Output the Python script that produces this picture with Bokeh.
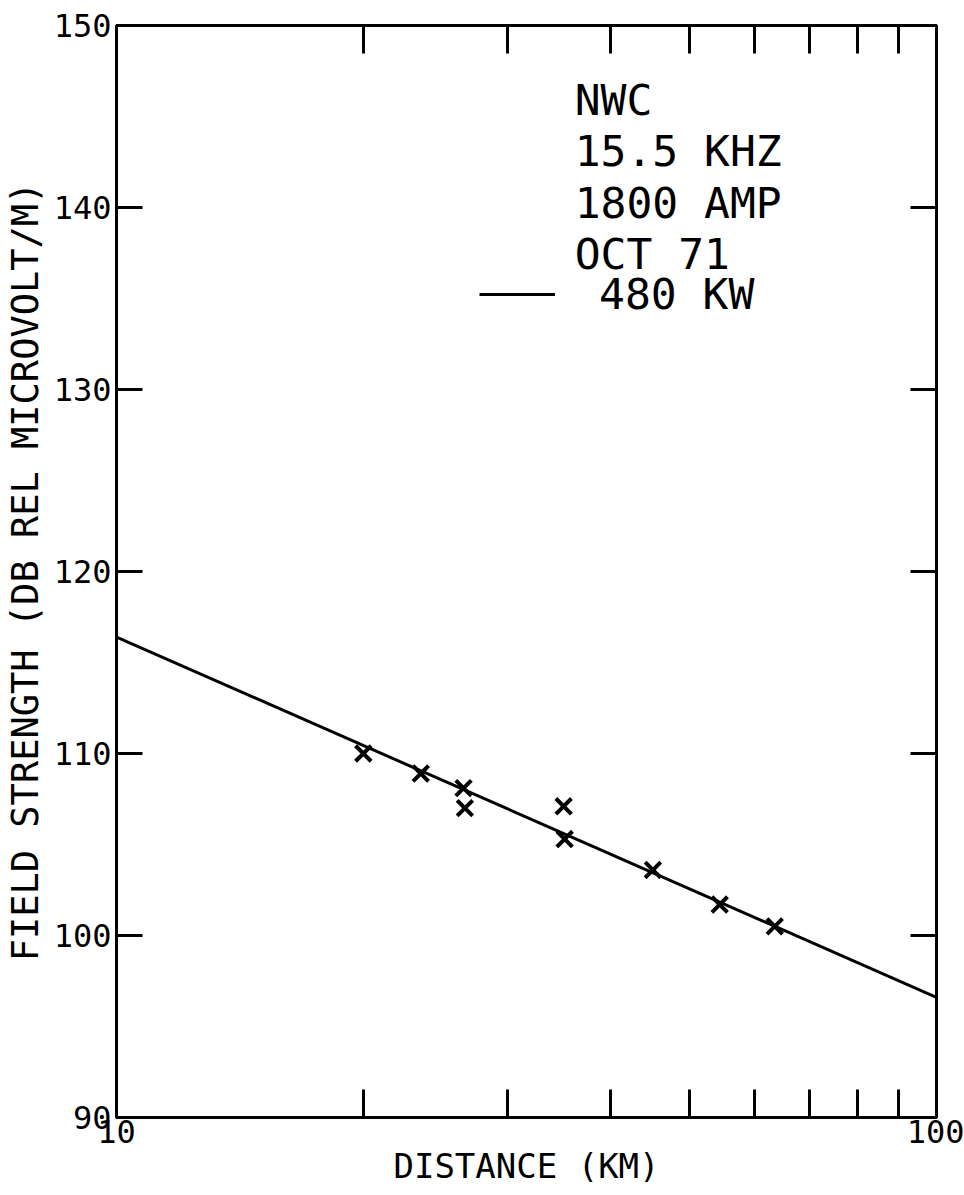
from bokeh.plotting import figure
from bokeh.models import (LogAxis, LinearAxis, FixedTicker, Label, Legend,
                          LegendItem, Range1d, PrintfTickFormatter,
                          CustomJSTickFormatter)
from bokeh.embed import file_html
from bokeh.resources import INLINE

# ---- data ----
distance_km = [20.0, 23.5, 26.5, 26.6, 35.1, 35.2, 45.1, 54.4, 63.5]
field_db = [110.0, 108.9, 108.1, 107.0, 107.1, 105.3, 103.6, 101.7, 100.5]
fit_distance = [10, 100]
fit_db = [116.4, 96.6]
x_major_ticks = [10, 100]
x_minor_ticks = [20, 30, 40, 50, 60, 70, 80, 90]
y_ticks = [90, 100, 110, 120, 130, 140, 150]
info_lines = ["NWC", "15.5 KHZ", "1800 AMP", "OCT 71"]
legend_label = "480 KW"

FONT = "DejaVu Sans Mono"
W, H = 964, 1195

p = figure(width=W, height=H, x_axis_type="log",
           x_range=Range1d(10, 100), y_range=Range1d(90, 150),
           output_backend="svg", toolbar_location=None,
           min_border_left=114, min_border_right=28,
           min_border_top=25, min_border_bottom=78,
           x_axis_label="DISTANCE (KM)",
           y_axis_label="FIELD STRENGTH (DB REL MICROVOLT/M)")
p.grid.visible = False
p.outline_line_color = "black"
p.outline_line_width = 3
p.background_fill_color = "white"
p.border_fill_color = "white"

blank = CustomJSTickFormatter(code='return "";')


def style_x(ax, labels=True):
    ax.ticker = FixedTicker(ticks=x_major_ticks, minor_ticks=x_minor_ticks)
    ax.formatter = PrintfTickFormatter(format="%d") if labels else blank
    ax.major_tick_in = 0
    ax.major_tick_out = 0
    ax.minor_tick_in = 28
    ax.minor_tick_out = 0
    ax.minor_tick_line_width = 3
    ax.minor_tick_line_color = "black"
    ax.axis_line_width = 3
    ax.axis_line_color = "black"
    ax.major_label_text_font = FONT
    ax.major_label_text_color = "black"
    ax.major_label_standoff = 2
    ax.major_label_text_font_size = "32px"


def style_y(ax, labels=True):
    ax.ticker = FixedTicker(ticks=y_ticks)
    if not labels:
        ax.formatter = blank
    ax.major_tick_in = 26
    ax.major_tick_out = 0
    ax.major_tick_line_width = 3
    ax.major_tick_line_color = "black"
    ax.minor_tick_in = 0
    ax.minor_tick_out = 0
    ax.axis_line_width = 3
    ax.axis_line_color = "black"
    ax.major_label_text_font = FONT
    ax.major_label_text_color = "black"
    ax.major_label_standoff = 5
    ax.major_label_text_font_size = "32px"


style_x(p.xaxis[0])
style_y(p.yaxis[0])
for ax in (p.xaxis[0], p.yaxis[0]):
    ax.axis_label_text_font = FONT
    ax.axis_label_text_font_style = "normal"
    ax.axis_label_text_color = "black"
p.xaxis[0].axis_label_standoff = 0
p.yaxis[0].axis_label_standoff = 4
p.xaxis[0].axis_label_text_font_size = "34px"
p.yaxis[0].axis_label_text_font_size = "37px"

top = LogAxis()
style_x(top, labels=False)
p.add_layout(top, "above")
right = LinearAxis()
style_y(right, labels=False)
p.add_layout(right, "right")

fit = p.line(fit_distance, fit_db, line_color="black", line_width=3)
p.scatter(distance_km, field_db, marker="x", size=22,
          line_color="black", line_width=4)

# text block (annotation positions in data units)
info_y = [145.88, 143.08, 140.27, 137.42]
for txt, yy in zip(info_lines, info_y):
    p.add_layout(Label(x=36.2, y=yy, text=txt, text_font=FONT,
                       text_font_size="43px", text_color="black",
                       text_baseline="middle", text_align="left"))

legend = Legend(items=[LegendItem(label=legend_label, renderers=[fit])],
                location=(363, 798), glyph_width=76, glyph_height=40,
                label_standoff=44, label_text_font=FONT,
                label_text_font_size="43px", label_text_color="black",
                padding=0, margin=0, spacing=0,
                border_line_alpha=0, background_fill_alpha=0)
p.add_layout(legend)

open("out.html", "w").write(file_html(p, INLINE))
